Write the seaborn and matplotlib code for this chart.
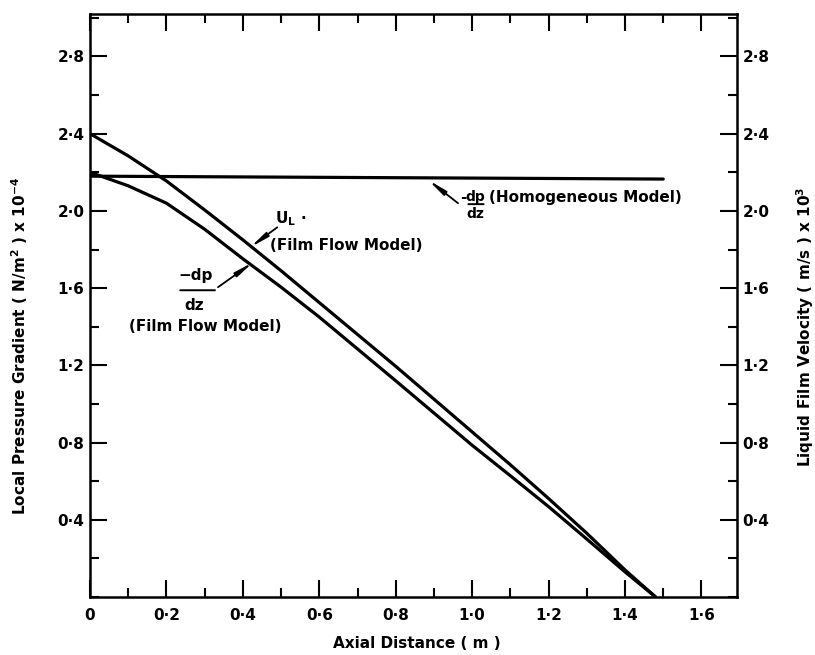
import numpy as np
import pandas as pd
import matplotlib
matplotlib.use("Agg")
import matplotlib.pyplot as plt
import seaborn as sns
from matplotlib.ticker import MultipleLocator, FixedLocator, FixedFormatter

# ---- data ----
axial_film = [0.0, 0.1, 0.2, 0.3, 0.4, 0.5, 0.6, 0.7, 0.8, 0.9, 1.0, 1.1, 1.2, 1.3, 1.4, 1.48]
ul_film = [2.40, 2.285, 2.155, 2.005, 1.85, 1.69, 1.525, 1.36, 1.195, 1.025, 0.855, 0.685, 0.51, 0.33, 0.14, 0.0]
dpdz_film = [2.20, 2.13, 2.04, 1.905, 1.752, 1.605, 1.45, 1.285, 1.12, 0.953, 0.786, 0.628, 0.468, 0.30, 0.13, 0.0]
axial_hom = [0.0, 1.5]
dpdz_hom = [2.18, 2.165]

x_ticks = [0.0, 0.2, 0.4, 0.6, 0.8, 1.0, 1.2, 1.4, 1.6]
x_ticklabels = ["0", "0·2", "0·4", "0·6", "0·8", "1·0", "1·2", "1·4", "1·6"]
y_ticks = [0.4, 0.8, 1.2, 1.6, 2.0, 2.4, 2.8]
y_ticklabels = ["0·4", "0·8", "1·2", "1·6", "2·0", "2·4", "2·8"]

sns.set_theme(style="ticks")
plt.rcParams["font.family"] = ["DejaVu Sans"]
plt.rcParams["mathtext.fontset"] = "dejavusans"
plt.rcParams["text.color"] = "black"
plt.rcParams["axes.labelcolor"] = "black"
plt.rcParams["xtick.color"] = "black"
plt.rcParams["ytick.color"] = "black"

df_film = pd.DataFrame({"x": axial_film, "ul": ul_film, "dp": dpdz_film})
df_hom = pd.DataFrame({"x": axial_hom, "dp": dpdz_hom})

fig = plt.figure(figsize=(8.15, 6.55), dpi=100)
ax = fig.add_axes([90 / 815, 1 - 597 / 655, (737 - 90) / 815, (597 - 14) / 655])

lw = 2.3
sns.lineplot(data=df_film, x="x", y="ul", ax=ax, color="black", lw=lw, sort=False)
sns.lineplot(data=df_film, x="x", y="dp", ax=ax, color="black", lw=lw, sort=False)
sns.lineplot(data=df_hom, x="x", y="dp", ax=ax, color="black", lw=lw, sort=False)

ax.set_xlim(0, 1.693)
ax.set_ylim(0, 3.02)
ax.set_xlabel("")
ax.set_ylabel("")

for s in ax.spines.values():
    s.set_linewidth(1.8)
    s.set_color("black")

ax.xaxis.set_major_locator(FixedLocator(x_ticks))
ax.xaxis.set_major_formatter(FixedFormatter(x_ticklabels))
ax.xaxis.set_minor_locator(MultipleLocator(0.1))
ax.yaxis.set_major_locator(FixedLocator(y_ticks))
ax.yaxis.set_major_formatter(FixedFormatter(y_ticklabels))
ax.yaxis.set_minor_locator(MultipleLocator(0.2))

tfont = dict(fontsize=11, fontweight="bold", color="black")
ax.tick_params(axis="both", which="major", direction="in", length=12, width=1.5,
               color="black", labelcolor="black", labelsize=11)
ax.tick_params(axis="both", which="minor", direction="in", length=6.5, width=1.5, color="black")
ax.tick_params(axis="x", which="both", top=True, pad=8)
ax.tick_params(axis="y", which="both", right=True, labelright=True, pad=4)
for lab in ax.get_xticklabels() + ax.get_yticklabels():
    lab.set_fontweight("bold")
for t in ax.yaxis.get_major_ticks():
    t.label2.set_fontweight("bold")
    t.label2.set_fontsize(11)
    t.label2.set_color("black")

# axis labels
fig.text(417 / 815, 1 - 644 / 655, "Axial Distance ( m )", ha="center", va="center", **tfont)
fig.text(20 / 815, 1 - 346 / 655, r"Local Pressure Gradient ( N/m$^{\mathbf{2}}$ ) x 10$^{\mathbf{-4}}$",
         rotation=90, ha="center", va="center", **tfont)
fig.text(805 / 815, 1 - 327 / 655, r"Liquid Film Velocity ( m/s ) x 10$^{\mathbf{3}}$",
         rotation=90, ha="center", va="center", **tfont)

afont = dict(fontsize=11, fontweight="bold", color="black")
arrow_kw = dict(arrowstyle="-|>,head_length=0.9,head_width=0.12", color="black", lw=1.3,
                shrinkA=0, shrinkB=0)
bar_kw = dict(arrowstyle="-", color="black", lw=1.4, shrinkA=0, shrinkB=0)

# U_L (Film Flow Model)
ax.text(0.484, 1.935, r"U$_{\mathbf{L}}$ ·", ha="left", va="baseline", **afont)
ax.text(0.471, 1.822, "(Film Flow Model)", ha="left", va="center", **afont)
ax.annotate("", xy=(0.419, 1.811), xytext=(0.49, 1.915), arrowprops=arrow_kw)

# -dp/dz (Film Flow Model)
ax.text(0.275, 1.667, "−dp", ha="center", va="center", **afont)
ax.annotate("", xy=(0.236, 1.589), xytext=(0.327, 1.589), arrowprops=bar_kw)
ax.text(0.272, 1.512, "dz", ha="center", va="center", **afont)
ax.text(0.301, 1.403, "(Film Flow Model)", ha="center", va="center", **afont)
ax.annotate("", xy=(0.427, 1.734), xytext=(0.335, 1.605), arrowprops=arrow_kw)

# -dp/dz (Homogeneous Model)
ax.text(0.976, 2.07, "-", ha="center", va="center", **afont)
ax.text(1.008, 2.07, "dp", ha="center", va="center", fontsize=10, fontweight="bold", color="black")
ax.annotate("", xy=(0.99, 2.035), xytext=(1.03, 2.035), arrowprops=bar_kw)
ax.text(1.008, 1.985, "dz", ha="center", va="center", fontsize=10, fontweight="bold", color="black")
ax.text(1.045, 2.07, "(Homogeneous Model)", ha="left", va="center", **afont)
ax.annotate("", xy=(0.885, 2.16), xytext=(0.963, 2.04), arrowprops=arrow_kw)

fig.savefig("out.png", dpi=100, facecolor="white")
